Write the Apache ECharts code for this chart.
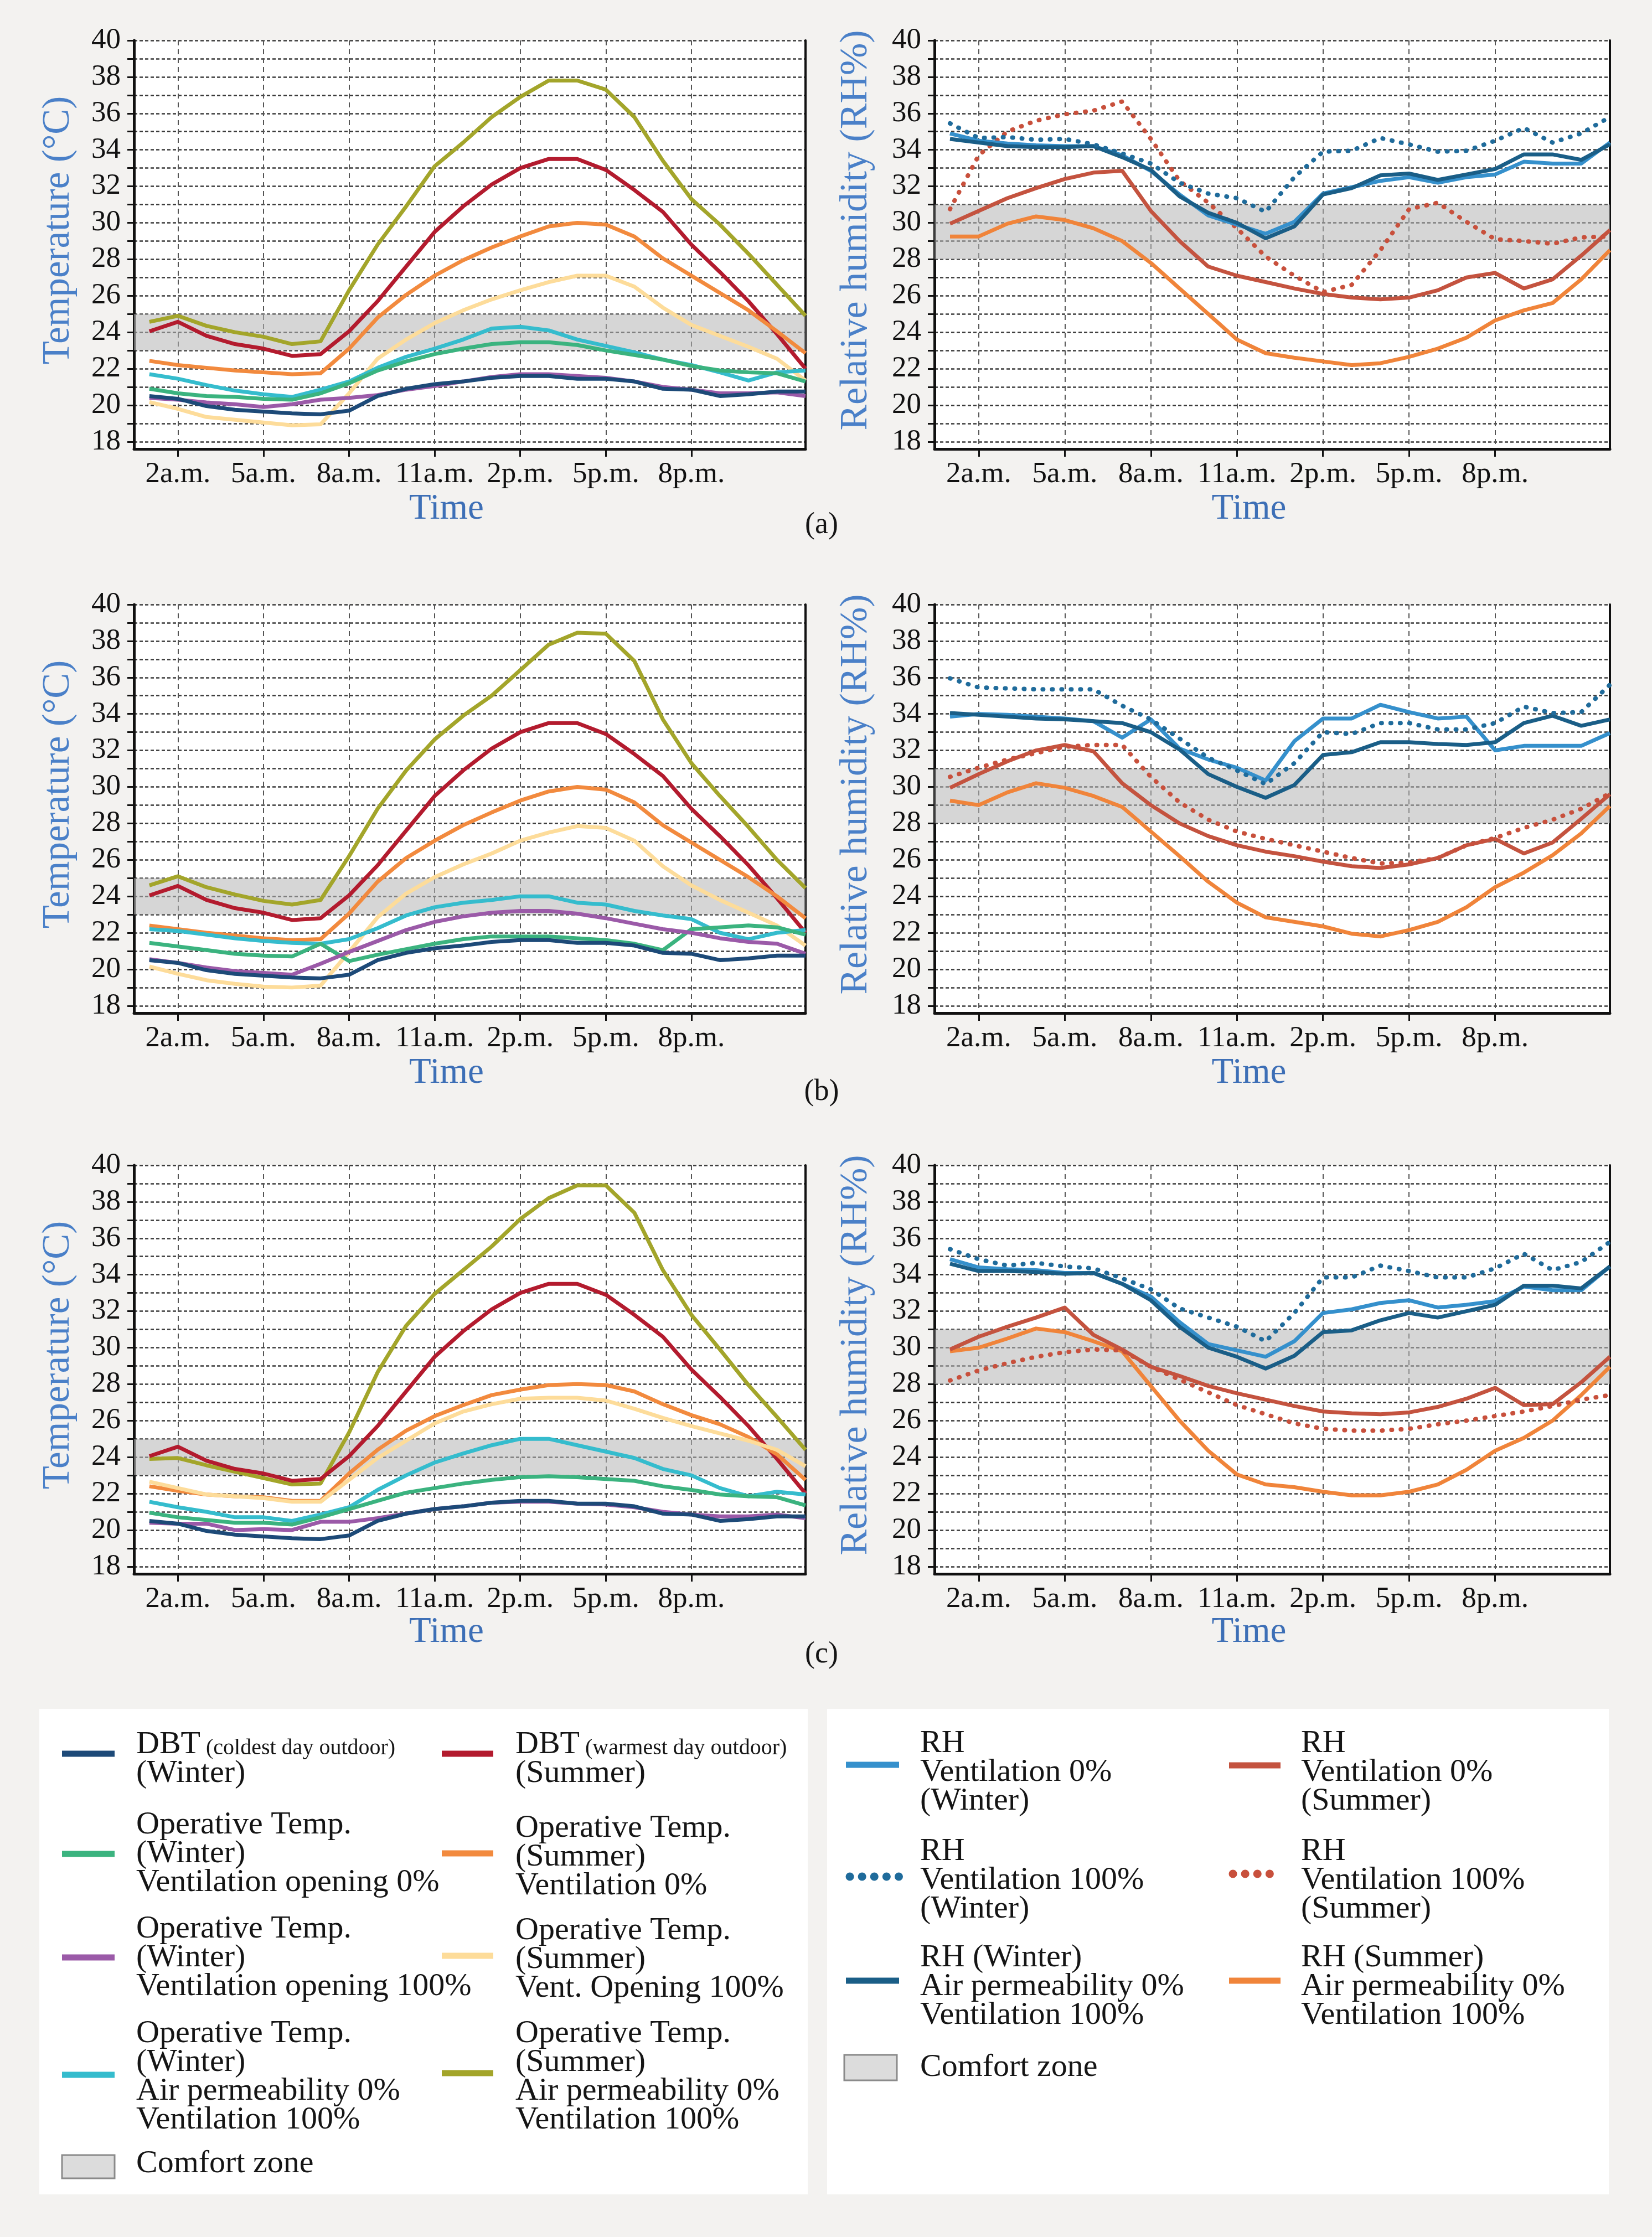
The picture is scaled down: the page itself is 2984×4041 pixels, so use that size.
<!DOCTYPE html>
<html><head><meta charset="utf-8">
<script src="https://cdn.jsdelivr.net/npm/echarts@6/dist/echarts.min.js"></script>
<style>html,body{margin:0;padding:0;background:#f3f2f0}#c{width:2984px;height:4041px}</style>
</head><body><div id="c"></div>
<script>
// ---------- data ----------
const hours = [1,2,3,4,5,6,7,8,9,10,11,12,13,14,15,16,17,18,19,20,21,22,23,24];
const tickHours = [2,5,8,11,14,17,20];
const tickLabels = ['2a.m.','5a.m.','8a.m.','11a.m.','2p.m.','5p.m.','8p.m.'];
const yTicks = [18,19,20,21,22,23,24,25,26,27,28,29,30,31,32,33,34,35,36,37,38,39,40];
const yLabels = [18,20,22,24,26,28,30,32,34,36,38,40];
const tempComfort = [23, 25];
const rhComfort = [28, 31];

// outdoor dry bulb temperature (same in all panels)
const dbtWinter = [20.5,20.35,19.95,19.75,19.65,19.55,19.5,19.7,20.5,20.9,21.15,21.3,21.5,21.6,21.6,21.45,21.45,21.3,20.9,20.85,20.5,20.6,20.75,20.75];
const dbtSummer = [24.05,24.57,23.8,23.35,23.1,22.7,22.8,24.05,25.7,27.6,29.5,30.9,32.1,33.0,33.5,33.5,32.9,31.8,30.6,28.8,27.3,25.7,23.9,22.0];

// panel (a) operative temperatures
const aWinVent0 = [20.9,20.65,20.5,20.45,20.35,20.3,20.65,21.2,21.9,22.4,22.8,23.1,23.35,23.45,23.45,23.3,23.0,22.75,22.5,22.15,21.9,21.8,21.75,21.3];
const aWinVent100 = [20.4,20.3,20.15,20.05,19.9,20.05,20.3,20.4,20.55,20.85,21.05,21.3,21.55,21.7,21.7,21.6,21.5,21.3,21.0,20.85,20.65,20.65,20.7,20.5];
const aWinAir = [21.7,21.45,21.1,20.8,20.6,20.45,20.85,21.3,22.05,22.65,23.1,23.6,24.2,24.3,24.1,23.6,23.25,22.9,22.5,22.2,21.8,21.35,21.8,21.9];
const aSumVent0 = [22.43,22.2,22.05,21.9,21.8,21.7,21.75,23.1,24.8,26.05,27.1,27.95,28.65,29.25,29.8,30.0,29.9,29.25,28.05,27.1,26.15,25.2,24.05,22.85];
const aSumVent100 = [20.17,19.8,19.35,19.2,19.05,18.9,18.95,20.65,22.55,23.6,24.5,25.2,25.8,26.3,26.75,27.1,27.1,26.5,25.35,24.4,23.8,23.2,22.55,21.35];
const aSumAir = [24.57,24.9,24.35,24.0,23.75,23.35,23.5,26.3,28.8,30.9,33.1,34.4,35.8,36.9,37.8,37.8,37.3,35.8,33.4,31.3,29.9,28.3,26.6,24.9];

// panel (b) operative temperatures
const bWinVent0 = [21.45,21.25,21.05,20.85,20.75,20.7,21.4,20.45,20.8,21.1,21.4,21.65,21.8,21.8,21.8,21.7,21.6,21.4,21.05,22.2,22.3,22.4,22.3,21.9];
const bWinVent100 = [20.55,20.35,20.1,19.9,19.8,19.7,20.3,20.95,21.55,22.15,22.6,22.9,23.1,23.2,23.2,23.05,22.8,22.5,22.2,22.0,21.7,21.5,21.4,20.85];
const bWinAir = [22.2,22.1,21.9,21.7,21.55,21.45,21.4,21.65,22.25,22.95,23.4,23.65,23.8,24.0,24.0,23.65,23.55,23.2,22.95,22.75,22.0,21.65,22.0,22.15];
const bSumVent0 = [22.4,22.2,22.0,21.85,21.7,21.6,21.65,23.05,24.8,26.1,27.05,27.9,28.6,29.25,29.75,30.0,29.85,29.15,27.9,26.95,26.0,25.05,24.0,22.8];
const bSumVent100 = [20.15,19.75,19.4,19.2,19.05,19.0,19.1,20.95,22.85,24.15,25.05,25.75,26.35,27.05,27.5,27.85,27.75,27.05,25.65,24.6,23.8,23.1,22.4,21.3];
const bSumAir = [24.6,25.1,24.5,24.1,23.75,23.55,23.8,26.2,28.8,30.9,32.6,33.9,35.0,36.4,37.8,38.45,38.4,36.9,33.7,31.3,29.5,27.8,26.0,24.45];

// panel (c) operative temperatures
const cWinVent0 = [20.95,20.7,20.55,20.4,20.4,20.3,20.7,21.15,21.6,22.05,22.3,22.55,22.75,22.9,22.95,22.9,22.8,22.7,22.4,22.2,21.95,21.85,21.8,21.35];
const cWinVent100 = [20.4,20.35,20.35,20.0,20.05,20.0,20.45,20.45,20.65,20.9,21.15,21.3,21.5,21.55,21.55,21.45,21.4,21.25,21.0,20.85,20.75,20.75,20.85,20.65];
const cWinAir = [21.55,21.25,21.0,20.7,20.7,20.5,20.85,21.25,22.2,23.0,23.7,24.2,24.65,25.0,25.0,24.65,24.3,23.95,23.35,23.0,22.3,21.85,22.1,21.95];
const cSumVent0 = [22.4,22.15,21.95,21.85,21.8,21.6,21.6,23.1,24.4,25.45,26.25,26.85,27.4,27.7,27.95,28.0,27.95,27.6,26.9,26.3,25.8,25.1,24.15,22.75];
const cSumVent100 = [22.65,22.3,21.95,21.85,21.75,21.55,21.55,22.75,23.95,24.9,25.85,26.5,26.9,27.2,27.25,27.25,27.1,26.65,26.15,25.7,25.3,24.9,24.4,23.5];
const cSumAir = [23.9,23.95,23.55,23.2,22.85,22.5,22.55,25.35,28.65,31.2,32.95,34.25,35.55,37.05,38.2,38.9,38.9,37.4,34.25,31.8,29.9,27.95,26.2,24.4];

// panel (a) relative humidity
const aRhWin0 = [34.9,34.5,34.35,34.25,34.2,34.2,33.7,32.85,31.55,30.4,29.9,29.4,30.05,31.6,31.95,32.3,32.5,32.2,32.5,32.65,33.35,33.25,33.25,34.4];
const aRhWin100 = [35.45,34.65,34.7,34.55,34.6,34.3,33.8,33.25,32.2,31.6,31.35,30.6,32.5,33.9,33.95,34.65,34.3,33.9,33.95,34.5,35.2,34.4,34.9,35.8];
const aRhWinAir = [34.6,34.4,34.2,34.15,34.15,34.2,33.6,32.9,31.45,30.55,30.0,29.15,29.8,31.55,31.9,32.6,32.7,32.35,32.65,32.95,33.75,33.75,33.45,34.3];
const aRhSum0 = [29.95,30.65,31.35,31.9,32.4,32.75,32.85,30.65,29.0,27.6,27.1,26.75,26.4,26.1,25.9,25.8,25.9,26.3,27.0,27.25,26.4,26.9,28.2,29.6];
const aRhSum100 = [30.75,33.7,35.0,35.6,35.95,36.15,36.65,34.6,32.3,31.1,29.7,28.15,27.1,26.2,26.6,28.5,30.75,31.1,30.05,29.1,29.0,28.85,29.2,29.25];
const aRhSumAir = [29.25,29.25,29.95,30.35,30.15,29.7,29.0,27.8,26.4,25.0,23.6,22.85,22.6,22.4,22.2,22.3,22.65,23.1,23.7,24.65,25.2,25.6,26.9,28.5];

// panel (b) relative humidity
const bRhWin0 = [33.85,34.0,33.95,33.85,33.75,33.6,32.7,33.7,32.1,31.5,31.05,30.35,32.5,33.75,33.75,34.5,34.1,33.75,33.85,32.0,32.25,32.25,32.25,32.95];
const bRhWin100 = [35.95,35.45,35.4,35.35,35.35,35.35,34.45,33.7,32.65,31.6,30.9,30.15,31.3,33.0,32.9,33.5,33.5,33.15,33.15,33.5,34.4,34.05,34.1,35.6];
const bRhWinAir = [34.05,33.95,33.85,33.75,33.7,33.6,33.5,33.0,32.05,30.7,30.0,29.4,30.1,31.75,31.9,32.45,32.45,32.35,32.3,32.45,33.5,33.9,33.35,33.7];
const bRhSum0 = [29.95,30.7,31.4,32.0,32.3,31.95,30.2,29.0,28.0,27.3,26.8,26.45,26.2,25.9,25.65,25.55,25.75,26.1,26.8,27.15,26.35,26.95,28.25,29.6];
const bRhSum100 = [30.55,31.05,31.5,31.85,32.2,32.3,32.3,30.55,29.15,28.2,27.55,27.15,26.8,26.45,26.1,25.8,25.85,26.1,26.8,27.2,27.75,28.2,28.8,29.65];
const bRhSumAir = [29.25,29.0,29.7,30.2,29.95,29.5,28.9,27.55,26.2,24.8,23.65,22.85,22.6,22.35,21.95,21.8,22.15,22.6,23.4,24.5,25.3,26.25,27.45,28.95];

// panel (c) relative humidity
const cRhWin0 = [34.85,34.4,34.3,34.25,34.1,34.1,33.5,32.8,31.4,30.2,29.85,29.5,30.35,31.9,32.1,32.45,32.6,32.2,32.35,32.55,33.35,33.15,33.15,34.45];
const cRhWin100 = [35.4,34.85,34.5,34.65,34.45,34.35,33.8,33.2,32.15,31.65,31.15,30.35,31.9,33.85,33.85,34.5,34.2,33.85,33.85,34.35,35.15,34.25,34.7,35.8];
const cRhWinAir = [34.6,34.2,34.2,34.15,34.05,34.1,33.5,32.6,31.15,30.0,29.5,28.85,29.55,30.85,30.95,31.5,31.9,31.65,32.0,32.35,33.4,33.4,33.25,34.45];
const cRhSum0 = [29.9,30.6,31.15,31.65,32.2,30.7,29.9,28.95,28.45,27.9,27.5,27.15,26.8,26.5,26.4,26.35,26.45,26.75,27.2,27.8,26.85,26.9,28.1,29.5];
const cRhSum100 = [28.2,28.75,29.15,29.5,29.75,29.9,29.85,28.95,28.25,27.55,26.85,26.35,25.85,25.55,25.45,25.45,25.55,25.8,26.0,26.25,26.5,26.8,27.15,27.4];
const cRhSumAir = [29.8,30.0,30.5,31.05,30.85,30.35,29.8,27.9,26.0,24.35,23.05,22.5,22.35,22.1,21.9,21.9,22.1,22.5,23.3,24.35,25.05,26.0,27.4,28.95];

// ---------- styling ----------
const FF = "'Liberation Serif', 'DejaVu Serif', serif";
const C = {
  dbtW:'#1d4a78', dbtS:'#b31b2e', green:'#3bb37f', orange:'#f28a3e', purple:'#9b5aa8',
  yellow:'#fddc9a', cyan:'#35bccd', olive:'#a3a52a',
  rhW0:'#3590cc', rhW100:'#1f6b9b', rhWAir:'#1a5e87', rhS0:'#c4533f', rhS100:'#c8503c', rhSAir:'#f0843a'
};
const TITLE_BLUE = '#4a80c8';

const rowTop = [73, 1092, 2105];
const rowH = 738;
const colLeft = [242, 1688];
const colW = [1213, 1220];

const grids = [], xAxes = [], yAxes = [], yBorders = [];
for (let r = 0; r < 3; r++) {
  for (let c = 0; c < 2; c++) {
    const g = r * 2 + c;
    grids.push({left: colLeft[c], top: rowTop[r], width: colW[c], height: rowH,
      show: true, backgroundColor: '#ffffff', borderWidth: 0, containLabel: false});
    xAxes.push({
      type: 'value', gridIndex: g, min: 0.46, max: 24,
      name: 'Time', nameLocation: 'middle', nameGap: r === 2 ? 72 : 76,
      nameTextStyle: {fontFamily: FF, fontSize: 65, color: '#3d6fb6', padding: [0, 84, 0, 0]},
      axisLine: {show: true, onZero: false, lineStyle: {color: '#111', width: 5}},
      axisTick: {show: true, customValues: tickHours, length: 14, lineStyle: {color: '#111', width: 3}},
      axisLabel: {show: true, customValues: tickHours, margin: 20, fontFamily: FF, fontSize: 53, color: '#111',
        formatter: v => { const i = tickHours.indexOf(v); return i >= 0 ? tickLabels[i] : ''; }},
      splitLine: {show: true, lineStyle: {color: '#555', width: 2, type: [9, 7]}}
    });
    yAxes.push({
      type: 'value', gridIndex: g, min: 17.6, max: 40,
      name: c === 0 ? 'Temperature (°C)' : 'Relative humidity (RH%)',
      nameLocation: 'middle', nameRotate: 90, nameGap: c === 0 ? 102 : 106,
      nameTextStyle: {fontFamily: FF, fontSize: c === 0 ? 69 : 70, color: TITLE_BLUE, padding: [0, 0, 0, 52]},
      axisLine: {show: true, onZero: false, lineStyle: {color: '#111', width: 5}},
      axisTick: {show: true, customValues: yTicks, length: 12, lineStyle: {color: '#111', width: 3}},
      axisLabel: {show: true, customValues: yLabels, margin: 24, fontFamily: FF, fontSize: 53, color: '#111'},
      splitLine: {show: true, lineStyle: {color: '#3a3a3a', width: 2.5, type: [6, 4]}}
    });
    yBorders.push({
      type: 'value', gridIndex: g, min: 17.6, max: 40, position: 'right',
      axisLine: {show: true, onZero: false, lineStyle: {color: '#111', width: 4}},
      axisTick: {show: false}, axisLabel: {show: false}, splitLine: {show: false}
    });
  }
}

function line(name, vals, color, g, dotted, band) {
  const s = {
    type: 'line', name: name, xAxisIndex: g, yAxisIndex: g,
    data: hours.map((h, i) => [h, vals[i]]),
    showSymbol: false, symbol: 'none', silent: true, z: 3,
    lineStyle: {color: color, width: dotted ? 8 : 7, type: dotted ? [1, 16] : 'solid',
      cap: dotted ? 'round' : 'butt', join: 'round'},
    itemStyle: {color: color}
  };
  if (band) {
    s.markArea = {silent: true, z: 1, itemStyle: {color: 'rgba(180,180,180,0.55)'},
      data: [[{yAxis: band[0]}, {yAxis: band[1]}]]};
  }
  return s;
}

const tempSets = [
  [aWinVent0, aWinVent100, aWinAir, aSumVent0, aSumVent100, aSumAir],
  [bWinVent0, bWinVent100, bWinAir, bSumVent0, bSumVent100, bSumAir],
  [cWinVent0, cWinVent100, cWinAir, cSumVent0, cSumVent100, cSumAir]
];
const rhSets = [
  [aRhWin0, aRhWin100, aRhWinAir, aRhSum0, aRhSum100, aRhSumAir],
  [bRhWin0, bRhWin100, bRhWinAir, bRhSum0, bRhSum100, bRhSumAir],
  [cRhWin0, cRhWin100, cRhWinAir, cRhSum0, cRhSum100, cRhSumAir]
];

const series = [];
for (let r = 0; r < 3; r++) {
  const gT = r * 2, gR = r * 2 + 1;
  const t = tempSets[r];
  series.push(line('Operative Temp. (Summer) Air permeability 0% Ventilation 100%', t[5], C.olive, gT, false, tempComfort));
  series.push(line('DBT (warmest day outdoor) (Summer)', dbtSummer, C.dbtS, gT));
  series.push(line('Operative Temp. (Summer) Ventilation 0%', t[3], C.orange, gT));
  series.push(line('Operative Temp. (Summer) Vent. Opening 100%', t[4], C.yellow, gT));
  series.push(line('Operative Temp. (Winter) Air permeability 0% Ventilation 100%', t[2], C.cyan, gT));
  series.push(line('Operative Temp. (Winter) Ventilation opening 0%', t[0], C.green, gT));
  series.push(line('Operative Temp. (Winter) Ventilation opening 100%', t[1], C.purple, gT));
  series.push(line('DBT (coldest day outdoor) (Winter)', dbtWinter, C.dbtW, gT));
  const h = rhSets[r];
  series.push(line('RH (Summer) Air permeability 0% Ventilation 100%', h[5], C.rhSAir, gR, false, rhComfort));
  series.push(line('RH Ventilation 0% (Summer)', h[3], C.rhS0, gR));
  series.push(line('RH Ventilation 100% (Summer)', h[4], C.rhS100, gR, true));
  series.push(line('RH Ventilation 0% (Winter)', h[0], C.rhW0, gR));
  series.push(line('RH (Winter) Air permeability 0% Ventilation 100%', h[2], C.rhWAir, gR));
  series.push(line('RH Ventilation 100% (Winter)', h[1], C.rhW100, gR, true));
}

// ---------- legend & labels (graphic) ----------
function txt(x, y, text, extra) {
  return {type: 'text', x: x, y: y, silent: true, z: 10,
    style: Object.assign({text: text, fill: '#151515', fontSize: 58, fontFamily: FF,
      verticalAlign: 'middle', align: 'left', lineHeight: 52}, extra || {})};
}
function bar(x1, x2, y, color) {
  return {type: 'rect', silent: true, z: 10, shape: {x: x1, y: y - 5.5, width: x2 - x1, height: 11}, style: {fill: color}};
}
function dots(x1, x2, y, color) {
  return {type: 'line', silent: true, z: 10, shape: {x1: x1, y1: y, x2: x2, y2: y},
    style: {stroke: color, lineWidth: 15, lineDash: [0.1, 22], lineCap: 'round'}};
}
function zoneBox(x, y, w, h) {
  return {type: 'rect', silent: true, z: 10, shape: {x: x, y: y, width: w, height: h},
    style: {fill: '#dcdcdc', stroke: '#8a8a8a', lineWidth: 3}};
}
const richDBT = {
  a: {fontSize: 58, fontFamily: FF, fill: '#151515', lineHeight: 52},
  b: {fontSize: 40, fontFamily: FF, fill: '#151515', lineHeight: 40, verticalAlign: 'bottom'}
};

const graphics = [
  {type: 'rect', silent: true, z: 5, shape: {x: 71, y: 3087, width: 1388, height: 877}, style: {fill: '#ffffff'}},
  {type: 'rect', silent: true, z: 5, shape: {x: 1494, y: 3087, width: 1412, height: 877}, style: {fill: '#ffffff'}},
  txt(1484, 949, '(a)', {align: 'center', fontSize: 54}),
  txt(1484, 1973, '(b)', {align: 'center', fontSize: 54}),
  txt(1484, 2989, '(c)', {align: 'center', fontSize: 54}),
  // left legend, column 1
  bar(112, 207, 3168, C.dbtW),
  txt(246, 3178, '{a|DBT}{b| (coldest day outdoor)}\n{a|(Winter)}', {rich: richDBT}),
  bar(112, 207, 3349, C.green),
  txt(246, 3349, 'Operative Temp.\n(Winter)\nVentilation opening 0%'),
  bar(112, 207, 3536, C.purple),
  txt(246, 3537, 'Operative Temp.\n(Winter)\nVentilation opening 100%'),
  bar(112, 207, 3748, C.cyan),
  txt(246, 3752, 'Operative Temp.\n(Winter)\nAir permeability 0%\nVentilation 100%'),
  zoneBox(112, 3893, 95, 42),
  txt(246, 3909, 'Comfort zone'),
  // left legend, column 2
  bar(798, 891, 3168, C.dbtS),
  txt(931, 3178, '{a|DBT}{b| (warmest day outdoor)}\n{a|(Summer)}', {rich: richDBT}),
  bar(798, 891, 3348, C.orange),
  txt(931, 3355, 'Operative Temp.\n(Summer)\nVentilation 0%'),
  bar(798, 891, 3533, C.yellow),
  txt(931, 3540, 'Operative Temp.\n(Summer)\nVent. Opening 100%'),
  bar(798, 891, 3745, C.olive),
  txt(931, 3752, 'Operative Temp.\n(Summer)\nAir permeability 0%\nVentilation 100%'),
  // right legend, column 1
  bar(1528, 1624, 3188, C.rhW0),
  txt(1662, 3202, 'RH\nVentilation 0%\n(Winter)'),
  dots(1535, 1624, 3390, C.rhW100),
  txt(1662, 3397, 'RH\nVentilation 100%\n(Winter)'),
  bar(1528, 1624, 3578, C.rhWAir),
  txt(1662, 3589, 'RH (Winter)\nAir permeability 0%\nVentilation 100%'),
  zoneBox(1525, 3712, 95, 46),
  txt(1662, 3735, 'Comfort zone'),
  // right legend, column 2
  bar(2220, 2313, 3189, C.rhS0),
  txt(2350, 3202, 'RH\nVentilation 0%\n(Summer)'),
  dots(2227, 2313, 3385, C.rhS100),
  txt(2350, 3397, 'RH\nVentilation 100%\n(Summer)'),
  bar(2220, 2313, 3578, C.rhSAir),
  txt(2350, 3589, 'RH (Summer)\nAir permeability 0%\nVentilation 100%')
];

const chart = echarts.init(document.getElementById('c'), null, {renderer: 'canvas', width: 2984, height: 4041});
chart.setOption({
  backgroundColor: '#f3f2f0',
  animation: false,
  grid: grids,
  xAxis: xAxes,
  yAxis: yAxes.concat(yBorders),
  series: series,
  graphic: graphics
});
</script>
</body></html>
